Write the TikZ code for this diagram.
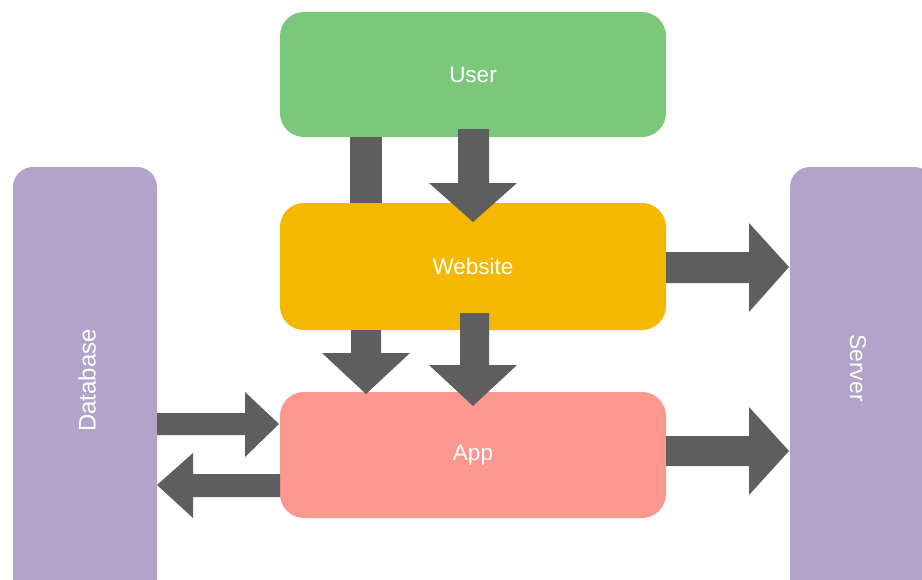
\documentclass[tikz,border=0pt]{standalone}
\usepackage{fontspec}
\setmainfont{Liberation Sans}
\definecolor{cgreen}{HTML}{7BC87A}
\definecolor{cyellow}{HTML}{F5B800}
\definecolor{cpink}{HTML}{FA978F}
\definecolor{cpurple}{HTML}{B1A3C9}
\definecolor{carrow}{HTML}{5E5E5E}
\begin{document}
\begin{tikzpicture}[x=1pt,y=-1pt,
  box/.style={fill=#1, draw=none, rounded corners=24pt, text=white, font=\fontsize{22.5}{26}\selectfont, inner sep=0pt},
  side/.style={fill=cpurple, draw=none, rounded corners=20pt, inner sep=0pt},
  vlabel/.style={text=white, font=\fontsize{#1}{26}\selectfont},
  blk/.style={fill=carrow, draw=none}]
\useasboundingbox (0,0) rectangle (922,579);
\clip (0,0) rectangle (922,579);
% boxes
\node[box=cgreen, minimum width=386pt, minimum height=125pt] (user) at (473,74.5) {User};
\node[box=cyellow, minimum width=386pt, minimum height=127pt] (web) at (473,266.5) {Website};
\node[box=cpink, minimum width=386pt, minimum height=126pt] (app) at (473,455) {App};
\node[side, minimum width=144pt, minimum height=440pt] (db) at (85,387) {};
\node[side, minimum width=144pt, minimum height=440pt] (srv) at (862,387) {};
\node[vlabel=24, rotate=90] (dblabel) at (87,380.5) {Database};
\node[vlabel=23, rotate=-90] (srvlabel) at (858,368) {Server};
% User -> Website: left bar
\fill[blk] (350,137) rectangle (382,203);
% User -> Website: right arrow
\fill[blk] (458,129) -- (489,129) -- (489,183) -- (517,183) -- (473,222) -- (429,183) -- (458,183) -- cycle;
% Website -> App: left arrow
\fill[blk] (351,330) -- (381,330) -- (381,353) -- (410,353) -- (366,394) -- (322,353) -- (351,353) -- cycle;
% Website -> App: right arrow
\fill[blk] (460,313) -- (489,313) -- (489,365) -- (517,365) -- (473,406) -- (429,365) -- (460,365) -- cycle;
% Database -> App
\fill[blk] (157,413) -- (245,413) -- (245,392) -- (279,424) -- (245,457) -- (245,435) -- (157,435) -- cycle;
% App -> Database
\fill[blk] (280,474) -- (193,474) -- (193,453) -- (157,485) -- (193,518) -- (193,497) -- (280,497) -- cycle;
% Website -> Server
\fill[blk] (666,252) -- (749,252) -- (749,223) -- (789,267) -- (749,312) -- (749,283) -- (666,283) -- cycle;
% App -> Server
\fill[blk] (666,436) -- (749,436) -- (749,407) -- (789,451) -- (749,495) -- (749,466) -- (666,466) -- cycle;
\end{tikzpicture}
\end{document}
